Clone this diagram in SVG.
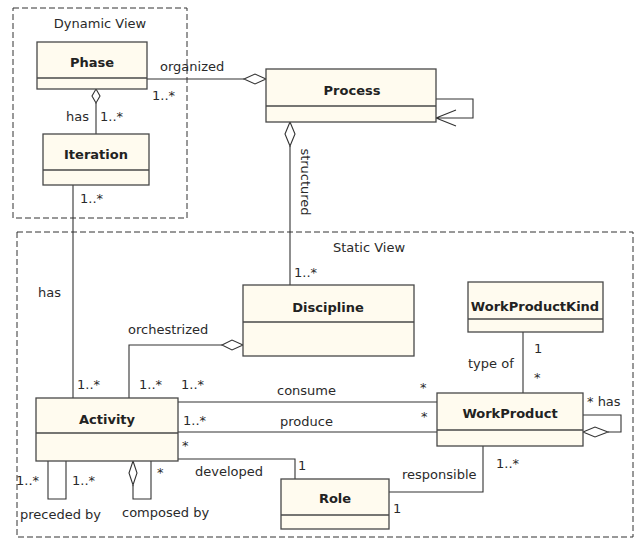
<svg xmlns="http://www.w3.org/2000/svg" width="636" height="540" viewBox="0 0 636 540">
<defs>
<style>
.box{fill:#fffbef;stroke:#484848;stroke-width:1.3}
.div{stroke:#484848;stroke-width:1.3}
.frame{fill:none;stroke:#333;stroke-width:1;stroke-dasharray:6,3}
.cn{fill:none;stroke:#333;stroke-width:1.1}
.dia{fill:#fff;stroke:#333;stroke-width:1.1}
.t{font-family:"DejaVu Sans","Liberation Sans",sans-serif;font-size:13px;fill:#2a2a2a}
.b{font-family:"DejaVu Sans","Liberation Sans",sans-serif;font-size:13px;font-weight:bold;fill:#222;text-anchor:middle}
</style>
</defs>
<rect width="636" height="540" fill="#fff"/>
<g id="frames">
<rect class="frame" x="13" y="8" width="174" height="210"/>
<text class="t" x="100" y="28" text-anchor="middle">Dynamic View</text>
<rect class="frame" x="17" y="232" width="616" height="305"/>
<text class="t" x="369" y="252" text-anchor="middle">Static View</text>
</g>
<g id="connectors">
<path class="cn" d="M147,79 H244"/>
<path class="dia" d="M244,79 L255,74 L266,79 L255,84 Z"/>
<text class="t" x="160" y="71">organized</text>
<text class="t" x="152" y="100">1..*</text>
<path class="cn" d="M436,99 H473 V118 H436 M456,110 L436,118 L456,126"/>
<path class="cn" d="M96,103 V134"/>
<path class="dia" d="M96,89 L100,96 L96,103 L92,96 Z"/>
<text class="t" x="66" y="121">has</text>
<text class="t" x="100" y="121">1..*</text>
<path class="cn" d="M290,146 V285"/>
<path class="dia" d="M290,122 L295,134 L290,146 L285,134 Z"/>
<text class="t" transform="translate(301,182) rotate(90)" text-anchor="middle">structured</text>
<text class="t" x="294" y="277">1..*</text>
<path class="cn" d="M73,185 V398"/>
<text class="t" x="80" y="203">1..*</text>
<text class="t" x="38" y="297">has</text>
<text class="t" x="77" y="389">1..*</text>
<path class="cn" d="M129,398 V345 H222"/>
<path class="dia" d="M222,345 L232,340 L243,345 L232,350 Z"/>
<text class="t" x="128" y="334">orchestrized</text>
<text class="t" x="139" y="389">1..*</text>
<path class="cn" d="M523,332 V393"/>
<text class="t" x="534" y="353">1</text>
<text class="t" x="468" y="368">type of</text>
<text class="t" x="534" y="382">*</text>
<path class="cn" d="M178,402 H437"/>
<text class="t" x="181" y="389">1..*</text>
<text class="t" x="277" y="395">consume</text>
<text class="t" x="420" y="392">*</text>
<path class="cn" d="M178,432 H437"/>
<text class="t" x="183" y="425">1..*</text>
<text class="t" x="280" y="426">produce</text>
<text class="t" x="421" y="421">*</text>
<path class="cn" d="M583,415 H621 V432 H608"/>
<path class="dia" d="M583,432 L595,427 L608,432 L595,437 Z"/>
<text class="t" x="587" y="406">* has</text>
<path class="cn" d="M178,459 H295 V479"/>
<text class="t" x="182" y="450">*</text>
<text class="t" x="195" y="476">developed</text>
<text class="t" x="298" y="470">1</text>
<path class="cn" d="M483,446 V492 H389"/>
<text class="t" x="402" y="479">responsible</text>
<text class="t" x="496" y="468">1..*</text>
<text class="t" x="393" y="513">1</text>
<path class="cn" d="M48,461 V499 H66 V461"/>
<text class="t" x="16" y="485">1..*</text>
<text class="t" x="72" y="485">1..*</text>
<text class="t" x="20" y="519">preceded by</text>
<path class="cn" d="M133,485 V499 H151 V461"/>
<path class="dia" d="M133,461 L137,473 L133,485 L129,473 Z"/>
<text class="t" x="157" y="477">*</text>
<text class="t" x="122" y="517">composed by</text>
</g>
<g id="Phase">
<rect class="box" x="37" y="42" width="110" height="47"/>
<line class="div" x1="37" y1="78" x2="147" y2="78"/>
<text class="b" x="92" y="67">Phase</text>
</g>
<g id="Iteration">
<rect class="box" x="43" y="134" width="106" height="51"/>
<line class="div" x1="43" y1="170" x2="149" y2="170"/>
<text class="b" x="96" y="159">Iteration</text>
</g>
<g id="Process">
<rect class="box" x="266" y="69" width="170" height="53"/>
<line class="div" x1="266" y1="106" x2="436" y2="106"/>
<text class="b" x="352" y="95">Process</text>
</g>
<g id="Discipline">
<rect class="box" x="243" y="285" width="171" height="71"/>
<line class="div" x1="243" y1="322" x2="414" y2="322"/>
<text class="b" x="328" y="312">Discipline</text>
</g>
<g id="WorkProductKind">
<rect class="box" x="468" y="282" width="135" height="50"/>
<line class="div" x1="468" y1="319" x2="603" y2="319"/>
<text class="b" x="535" y="311">WorkProductKind</text>
</g>
<g id="Activity">
<rect class="box" x="36" y="398" width="142" height="63"/>
<line class="div" x1="36" y1="433" x2="178" y2="433"/>
<text class="b" x="107" y="424">Activity</text>
</g>
<g id="WorkProduct">
<rect class="box" x="437" y="393" width="146" height="53"/>
<line class="div" x1="437" y1="430" x2="583" y2="430"/>
<text class="b" x="510" y="418">WorkProduct</text>
</g>
<g id="Role">
<rect class="box" x="281" y="479" width="108" height="50"/>
<line class="div" x1="281" y1="515" x2="389" y2="515"/>
<text class="b" x="335" y="503">Role</text>
</g>
</svg>
